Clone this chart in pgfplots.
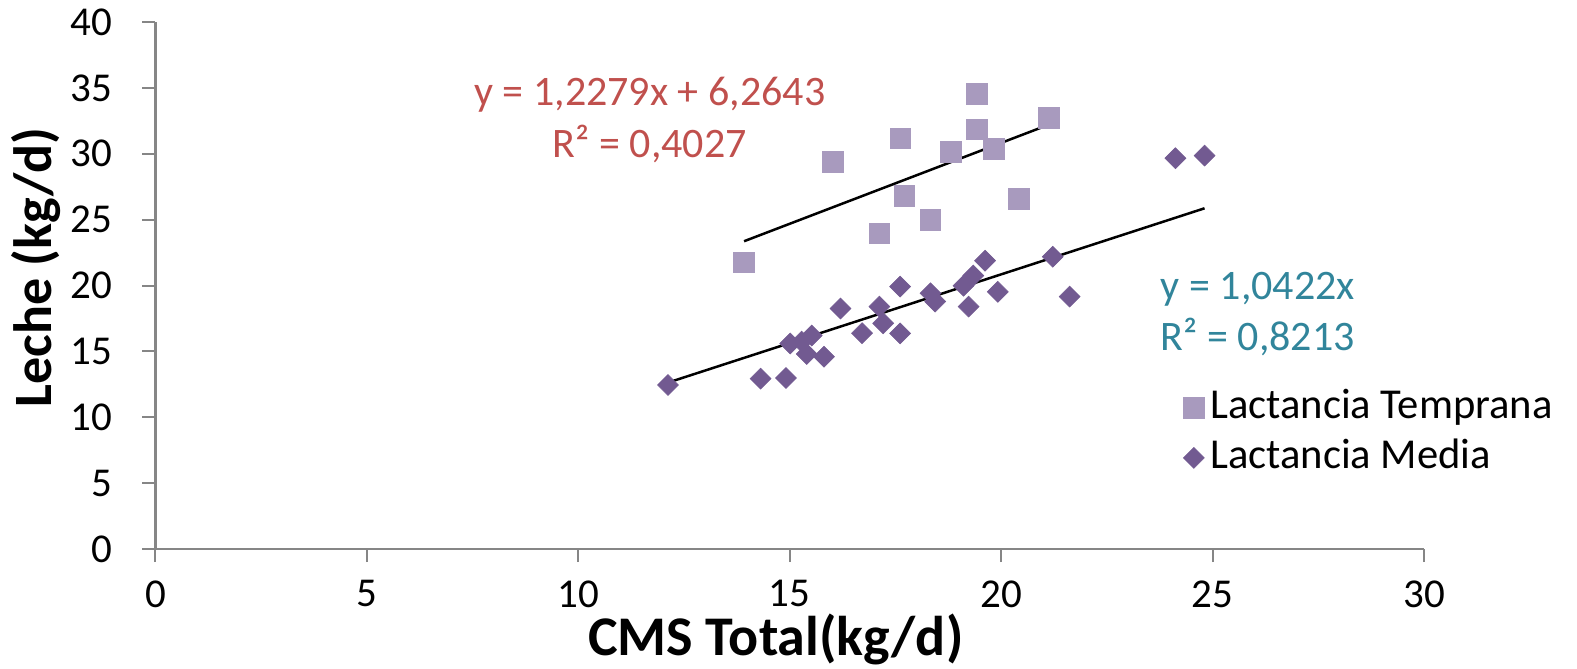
\documentclass[border=0pt]{standalone}
\usepackage{fontspec}
\setmainfont{Carlito}
\usepackage{pgfplots}
\pgfplotsset{compat=1.18}
\definecolor{tempr}{RGB}{168,154,190}
\definecolor{media}{RGB}{114,90,145}
\definecolor{eqred}{RGB}{192,80,77}
\definecolor{eqteal}{RGB}{49,133,155}
\definecolor{axgray}{RGB}{134,134,134}
\begin{document}
\begin{tikzpicture}
\useasboundingbox (-77.75bp,-60bp) rectangle (710.75bp,274.5bp);
\begin{axis}[
  at={(0,0)}, anchor=south west,
  scale only axis, width=634.25bp, height=263.5bp,
  xmin=0, xmax=30, ymin=0, ymax=40,
  xtick={0,5,...,30}, ytick={0,5,...,40},
  axis lines*=left,
  axis line style={draw=axgray, line width=1.2bp},
  tick style={draw=axgray, line width=1bp},
  tick align=outside, major tick length=6.5bp,
  /pgf/number format/assume math mode=true,
  tick label style={font=\fontsize{20.5bp}{24bp}\selectfont},
  xticklabel style={yshift=-7bp, inner sep=2bp},
  yticklabel style={xshift=-11.5bp},
  every axis x label/.style={at={(axis description cs:0.489,-0.202)}, anchor=base},
  every axis y label/.style={at={(axis description cs:-0.0816,0.534)}, rotate=90, anchor=base},
  xlabel={\fontsize{28bp}{32bp}\selectfont\bfseries CMS Total(kg/d)},
  ylabel={\fontsize{27bp}{32bp}\selectfont\bfseries Leche (kg/d)},
  legend style={draw=none, fill=none, at={(axis cs:24.3,8.81)}, anchor=west, inner sep=0pt,
    font=\fontsize{21.3bp}{25bp}\selectfont,
    nodes={text height=15bp, text depth=4bp, inner sep=3bp}},
  legend cell align=left,
  legend image code/.code={\draw[mark repeat=2,mark phase=2,#1] plot coordinates {(0bp,0bp) (8.5bp,0bp) (25bp,0bp)};},
  clip=false,
]
\addplot[only marks, mark=square*, mark size=5.15bp, mark options={draw=tempr, fill=tempr, line width=0.3bp}]
coordinates {(13.92,21.77) (16.02,29.38) (17.61,31.18) (17.71,26.80) (17.12,23.97) (18.32,24.98) (18.81,30.17) (19.42,34.55) (19.42,31.87) (19.82,30.37) (21.12,32.75) (20.42,26.60)};
\addlegendentry{Lactancia Temprana}
\addplot[only marks, mark=square*, mark size=3.7bp, mark options={rotate=45, draw=media, fill=media, line width=0.3bp}]
coordinates {(12.12,12.45) (14.31,12.93) (14.91,12.98) (15.01,15.6) (15.28,15.74) (15.52,16.2) (15.40,14.8) (15.81,14.60) (16.20,18.25) (16.71,16.38) (17.12,18.40) (17.21,17.13) (17.61,16.36) (17.61,19.92) (18.33,19.41) (18.44,18.78) (19.11,19.98) (19.34,20.75) (19.62,21.88) (19.23,18.40) (19.92,19.52) (21.22,22.19) (21.62,19.16) (24.12,29.66) (24.81,29.86)};
\addlegendentry{Lactancia Media}
\addplot[black, line width=1.25bp, forget plot] coordinates {(13.92,23.36) (21.12,32.20)};
\addplot[black, line width=1.25bp, forget plot] coordinates {(12.12,12.63) (24.81,25.86)};
\node[text=eqred, align=center, inner sep=0pt, font=\fontsize{21bp}{26bp}\selectfont] at (axis cs:11.69,32.57) {y = 1,2279x + 6,2643\\R² = 0,4027};
\node[text=eqteal, align=left, anchor=west, inner sep=0pt, font=\fontsize{21bp}{25.5bp}\selectfont] at (axis cs:23.77,17.84) {y = 1,0422x\\R² = 0,8213};
\end{axis}
\end{tikzpicture}
\end{document}
